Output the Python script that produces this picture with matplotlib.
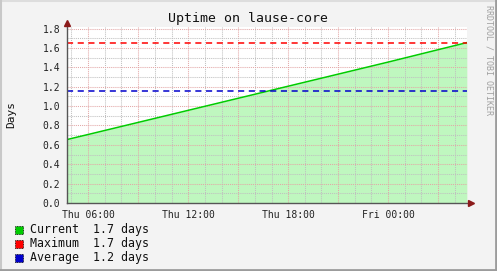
import matplotlib
matplotlib.use("Agg")
import matplotlib.pyplot as plt
from matplotlib.patches import Rectangle
from matplotlib.lines import Line2D

# datos (horas desde Thu 00:00, dias de uptime)
horas = [4.74, 6, 12, 18, 24, 28.72]
uptime = [0.655, 0.707, 0.956, 1.205, 1.454, 1.655]
maximo = 1.655
promedio = 1.153
x_ticks = [6, 12, 18, 24]
x_labels = ["Thu 06:00", "Thu 12:00", "Thu 18:00", "Fri 00:00"]
y_ticks = [0.0, 0.2, 0.4, 0.6, 0.8, 1.0, 1.2, 1.4, 1.6, 1.8]
leyenda = [("Current", uptime[-1], "#00cc00"),
           ("Maximum", maximo, "#ff0000"),
           ("Average", promedio, "#0000cc")]

W, H = 497, 271
mono = "DejaVu Sans Mono"
fig = plt.figure(figsize=(W / 100, H / 100), dpi=100, facecolor="#f3f3f3")

# area del grafico en pixeles
x0, x1 = 67, 467
y_bot, y_top = 203, 26.6
ax = fig.add_axes([x0 / W, 1 - y_bot / H, (x1 - x0) / W, (y_bot - y_top) / H])
ax.set_facecolor("white")
ax.set_xlim(4.73, 28.73)
ax.set_ylim(0, 1.82)

# rejilla encima del relleno: gris cada hora / 0.1, roja cada 3 horas / 0.2
dot = (0, (1, 1))
for h in range(5, 29):
    color = "#e3a7a7" if h % 3 == 0 else "#c0c0c0"
    ax.axvline(h, color=color, lw=0.75, ls=dot, zorder=2.5)
for i in range(1, 19):
    color = "#e3a7a7" if i % 2 == 0 else "#c0c0c0"
    ax.axhline(i / 10, color=color, lw=0.75, ls=dot, zorder=2.5)

ax.fill_between(horas, uptime, 0, color="#bff7bf", lw=0, zorder=2)
ax.plot(horas, uptime, color="#00cc00", lw=1.1, zorder=3)
ax.axhline(maximo, color="#ff0000", lw=1.1, ls=(0, (4, 3)), zorder=4)
ax.axhline(promedio, color="#0000cc", lw=1.1, ls=(0, (4, 3)), zorder=4)

for s in ax.spines.values():
    s.set_visible(False)
ax.set_xticks(x_ticks)
ax.set_xticklabels(x_labels, fontfamily=mono, fontsize=7)
ax.set_yticks(y_ticks)
ax.set_yticklabels(["%.1f" % v for v in y_ticks], fontfamily=mono, fontsize=7)
ax.tick_params(length=0, pad=5, colors="#222222")

# ejes con flechas
fig.add_artist(Line2D([x0 / W, x0 / W], [1 - y_bot / H, 1 - 23 / H], color="#555555", lw=1))
fig.add_artist(Line2D([x0 / W, 470 / W], [1 - y_bot / H, 1 - y_bot / H], color="#555555", lw=1))
fig.add_artist(Line2D([x0 / W], [1 - 23 / H], marker="^", ms=4, color="#8b1a1a", lw=0))
fig.add_artist(Line2D([471 / W], [1 - y_bot / H], marker=">", ms=4, color="#8b1a1a", lw=0))

fig.text(248 / W, 1 - 19 / H, "Uptime on lause-core", fontfamily=mono, fontsize=9.5,
         ha="center", va="center", color="#111111")
fig.text(11 / W, 1 - 115 / H, "Days", fontfamily=mono, fontsize=8, rotation=90,
         ha="center", va="center", color="#111111")
fig.text(489 / W, 1 - 60 / H, "RRDTOOL / TOBI OETIKER", fontfamily=mono, fontsize=6,
         rotation=270, ha="center", va="center", color="#a0a0a0")

# leyenda
for i, (nombre, valor, color) in enumerate(leyenda):
    yc = 229.5 + 14 * i
    fig.add_artist(Rectangle((15 / W, 1 - (yc + 4) / H), 8 / W, 8 / H, facecolor=color,
                             edgecolor="black", lw=0.6, ls=(0, (1, 1))))
    fig.text(30 / W, 1 - yc / H, "%s  %.1f days" % (nombre, valor), fontfamily=mono,
             fontsize=8.4, ha="left", va="center", color="#111111")

# borde
fig.add_artist(Line2D([0, 1], [1 - 0.5 / H, 1 - 0.5 / H], color="#dddddd", lw=1.5))
fig.add_artist(Line2D([0.5 / W, 0.5 / W], [0, 1], color="#c8c8c8", lw=1.5))
fig.add_artist(Line2D([1 - 1 / W, 1 - 1 / W], [0, 1], color="#9c9c9c", lw=2))
fig.add_artist(Line2D([0, 1], [1 / H, 1 / H], color="#9c9c9c", lw=2))

fig.savefig("out.png", dpi=100, facecolor=fig.get_facecolor())
